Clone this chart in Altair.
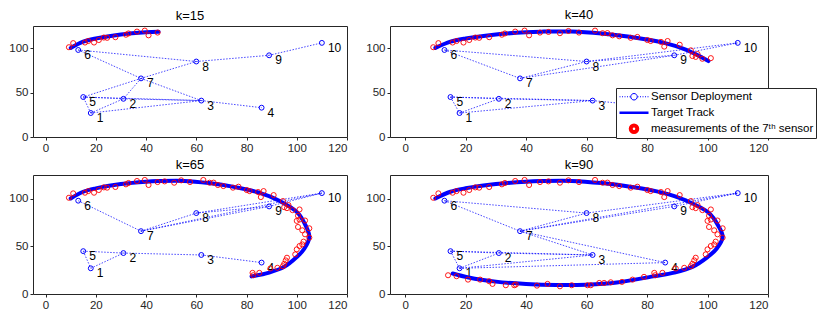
import altair as alt
import pandas as pd

# ---------------- data ----------------
sensor_id = [1, 2, 3, 4, 5, 6, 7, 8, 9, 10]
sensor_x = [18, 31, 62, 86, 15, 13, 38, 60, 89, 110]
sensor_y = [27, 43, 41, 33, 45, 98, 66, 85, 92, 106]

panel_k = [15, 40, 65, 90]
panel_titles = ["k=15", "k=40", "k=65", "k=90"]

edges_k15 = [(6, 8), (8, 9), (9, 10), (6, 7), (7, 3), (7, 8), (7, 5), (7, 2),
             (5, 2), (5, 3), (2, 3), (1, 2), (1, 5), (1, 3), (3, 4)]
edges_k40 = [(6, 8), (6, 7), (7, 8), (7, 9), (8, 9), (8, 10), (9, 10),
             (5, 2), (5, 1), (1, 2), (2, 3), (5, 3), (1, 3), (3, 4)]
edges_k65 = [(6, 7), (7, 8), (7, 9), (7, 10), (8, 9), (8, 10), (9, 10),
             (5, 2), (5, 1), (1, 2), (2, 3), (3, 4)]
edges_k90 = [(6, 8), (6, 7), (7, 8), (7, 9), (7, 10), (8, 10), (9, 10), (7, 3), (7, 4),
             (5, 2), (5, 1), (1, 2), (1, 3), (2, 3), (5, 3), (1, 4)]
panel_edges = [edges_k15, edges_k40, edges_k65, edges_k90]

track_k = [0, 2, 4, 8, 12, 15, 19, 23, 27, 31, 35, 40, 44, 48, 52, 55, 59, 62, 65,
           69, 73, 76, 80, 83, 87, 90]
track_x = [10, 15, 20, 30, 40, 45, 55, 65, 75, 85, 93, 100.3, 103.5, 105, 103, 100,
           95, 89, 82, 70, 60, 50, 40, 30, 21, 15.7]
track_y = [100.3, 107.4, 111, 115.5, 118, 118.6, 118.8, 116.5, 112.5, 106.5, 98, 85.5,
           72, 60, 47.5, 38.8, 28.5, 22.5, 18.5, 12, 9.8, 9.5, 10.6, 13, 17.3, 21.5]

meas_k = [1, 1, 3, 4, 5, 6, 6, 7, 8, 9, 10, 11, 12, 13, 14, 16, 17, 18, 20, 22, 23, 23,
          24, 25, 26, 27, 29, 29, 31, 31, 32, 33, 35, 36, 36, 37, 38, 39, 41, 42, 42, 43,
          45, 46, 46, 48, 49, 51, 52, 52, 53, 55, 56, 57, 58, 59, 60, 61, 63, 64, 65, 66,
          68, 69, 70, 71, 72, 73, 73, 75, 77, 78, 79, 82, 82, 83, 85, 85, 86, 88, 89, 90]
meas_x = [9.3, 11.0, 15.7, 17.0, 19.3, 21.2, 23.2, 24.5, 27.8, 32.0, 33.0, 36.4, 39.5,
          41.0, 44.6, 47.4, 51.2, 54.0, 57.5, 62.8, 65.3, 66.9, 68.6, 70.8, 74.6, 76.8,
          80.1, 81.2, 84.6, 85.7, 86.8, 90.8, 94.5, 95.0, 96.7, 96.1, 98.3, 101.1, 100.5,
          101.1, 103.3, 100.0, 100.5, 102.2, 105.0, 103.3, 105.0, 102.7, 102.2, 101.1,
          100.0, 99.4, 96.1, 95.6, 95.0, 94.5, 92.3, 89.5, 85.1, 82.4, 82.7, 79.0, 75.2,
          71.7, 68.0, 65.8, 64.2, 61.4, 60.3, 55.1, 51.2, 47.1, 43.6, 36.6, 36.1, 33.3,
          28.9, 27.8, 24.8, 20.8, 17.0, 14.2]
meas_y = [101.1, 105.7, 106.4, 108.1, 106.4, 109.2, 112.0, 111.7, 112.4, 115.2, 116.6,
          118.7, 119.8, 114.5, 117.6, 118.3, 116.9, 119.4, 117.6, 119.8, 116.9, 117.0,
          114.5, 113.4, 111.7, 112.7, 109.2, 108.1, 107.1, 101.8, 108.1, 103.9, 97.6,
          91.2, 93.4, 90.2, 88.1, 88.8, 82.1, 78.2, 77.2, 76.8, 70.4, 66.9, 69.0, 62.7,
          59.2, 55.0, 52.1, 50.4, 46.9, 41.6, 38.1, 35.3, 31.7, 29.2, 27.5, 26.8, 22.2,
          22.2, 19.7, 18.0, 15.1, 12.7, 12.3, 11.6, 11.6, 9.2, 9.2, 9.2, 8.1, 10.6, 8.8,
          9.9, 9.2, 9.2, 10.6, 13.4, 15.1, 15.1, 18.7, 19.7]

legend_labels = ["Sensor Deployment", "Target Track", "measurements of the 7\u1d57\u02b0 sensor"]

x_ticks = [0, 20, 40, 60, 80, 100, 120]
y_ticks = [0, 50, 100]

# ---------------- styling ----------------
BLUE = "#0000ff"
RED = "#ff0000"
FONT = "Liberation Sans"

sensors_df = pd.DataFrame({"id": sensor_id, "x": sensor_x, "y": sensor_y})
track_df = pd.DataFrame({"k": track_k, "x": track_x, "y": track_y})
meas_df = pd.DataFrame({"k": meas_k, "x": meas_x, "y": meas_y})
legend_df = pd.DataFrame({"series": legend_labels})

# legend symbol paths (unit box, 1 unit = 5px at symbolSize 100)
dots = "".join(f"M{a:.1f},0L{a + 0.2:.1f},0" for a in [-2.9, -2.4, -1.9, -1.4, -0.9, 0.7, 1.2, 1.7, 2.2, 2.7])
circ = "M0.65,0A0.65,0.65 0 1,1 -0.65,0A0.65,0.65 0 1,1 0.65,0Z"
shape_sensor = dots + circ
shape_track = "M-2.9,0L2.9,0"
shape_meas = circ


def edge_frame(edges):
    rows = []
    for i, (a, b) in enumerate(edges):
        rows.append({"edge": i, "ord": 0, "x": sensor_x[a - 1], "y": sensor_y[a - 1]})
        rows.append({"edge": i, "ord": 1, "x": sensor_x[b - 1], "y": sensor_y[b - 1]})
    return pd.DataFrame(rows)


def make_panel(idx, width, height, with_legend=False):
    K = panel_k[idx]
    xenc = alt.X("x:Q", scale=alt.Scale(domain=[-5, 120], nice=False, zero=False),
                 axis=alt.Axis(values=x_ticks, title=None))
    yenc = alt.Y("y:Q", scale=alt.Scale(domain=[0, 125], nice=False, zero=False),
                 axis=alt.Axis(values=y_ticks, title=None))

    edges = alt.Chart(edge_frame(panel_edges[idx])).mark_line(
        color=BLUE, strokeWidth=0.9, strokeDash=[1.5, 1.5], opacity=0.8
    ).encode(x=xenc, y=yenc, detail="edge:N", order="ord:Q")

    sensors = alt.Chart(sensors_df).mark_point(
        shape="circle", filled=False, color=BLUE, size=24, strokeWidth=1, opacity=1
    ).encode(x=xenc, y=yenc)

    labels = alt.Chart(sensors_df).mark_text(
        align="left", baseline="middle", dx=6, dy=5, font=FONT, fontSize=12, color="black"
    ).encode(x=xenc, y=yenc, text="id:N")

    track = alt.Chart(track_df).transform_filter(f"datum.k <= {K}").mark_line(
        color=BLUE, strokeWidth=4, interpolate="catmull-rom", strokeCap="round"
    ).encode(x=xenc, y=yenc, order="k:Q")

    meas = alt.Chart(meas_df).transform_filter(f"datum.k <= {K}").mark_point(
        shape="circle", filled=False, color=RED, size=26, strokeWidth=0.9, opacity=1
    ).encode(x=xenc, y=yenc)

    layers = [edges, sensors, labels, track, meas]

    if with_legend:
        leg = alt.Legend(
            title=None, orient="none", legendX=226, legendY=62,
            fillColor="white", strokeColor="#262626", padding=2,
            labelFont=FONT, labelFontSize=11.5, labelColor="black", labelLimit=400,
            symbolSize=100, rowPadding=2, clipHeight=13.5, labelOffset=10, symbolOffset=9,
            symbolFillColor="transparent",
        )
        legend_layer = alt.Chart(legend_df).transform_filter("false").mark_point(
            filled=False, opacity=1
        ).encode(
            x=xenc, y=yenc,
            color=alt.Color("series:N", scale=alt.Scale(domain=legend_labels, range=[BLUE, BLUE, RED]),
                            legend=leg, sort=legend_labels),
            shape=alt.Shape("series:N", scale=alt.Scale(domain=legend_labels,
                                                        range=[shape_sensor, shape_track, shape_meas]),
                            sort=legend_labels),
            strokeWidth=alt.StrokeWidth("series:N", scale=alt.Scale(domain=legend_labels, range=[1, 4, 1]),
                                        sort=legend_labels),
        )
        layers.append(legend_layer)

    return alt.layer(*layers).properties(
        width=width, height=height,
        title=alt.TitleParams(text=panel_titles[idx], fontSize=13, fontWeight="normal",
                              font=FONT, color="black", offset=1),
    )


p1 = make_panel(0, 314, 111)
p2 = make_panel(1, 378, 111, with_legend=True)
p3 = make_panel(2, 314, 119)
p4 = make_panel(3, 378, 119)

chart = alt.concat(p1, p2, p3, p4, columns=2, spacing={"row": 4, "column": 17}).resolve_scale(
    color="independent", shape="independent", strokeWidth="independent"
).properties(padding=0, background="white").configure_view(
    stroke="#262626", strokeWidth=1
).configure_axis(
    domain=False, grid=False, tickColor="#262626", tickSize=3, labelPadding=2,
    labelFont=FONT, labelFontSize=11.5, labelColor="#262626"
)

chart.save("out.html", embed_options={"renderer": "svg", "actions": False})
